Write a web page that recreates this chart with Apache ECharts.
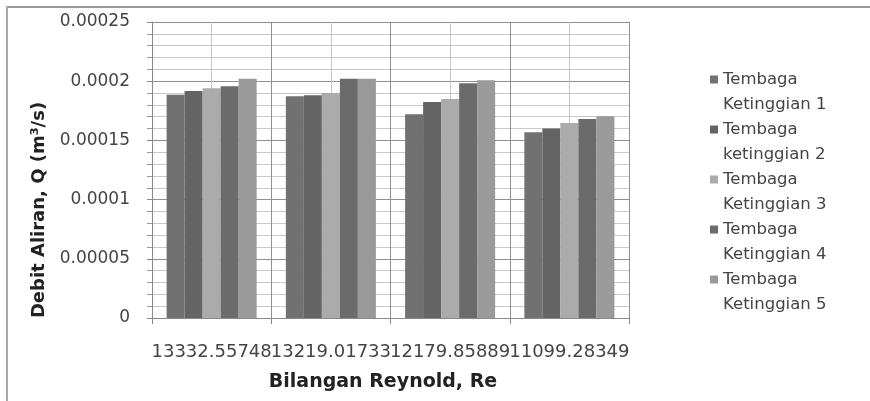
<!DOCTYPE html>
<html>
<head>
<meta charset="utf-8">
<script src="https://cdn.jsdelivr.net/npm/echarts@6/dist/echarts.min.js"></script>
<style>
    html, body { margin: 0; padding: 0; background: #fff; }
    #chart { width: 870px; height: 401px; }
</style>
</head>
<body>
<div id="chart"></div>
<script>
// bilangan reynold per kelompok
var categories = ['13332.55748', '13219.01733', '12179.85889', '11099.28349'];

// debit aliran Q (m3/s) per ketinggian
var seriesNames = [
    'Tembaga\nKetinggian 1',
    'Tembaga\nketinggian 2',
    'Tembaga\nKetinggian 3',
    'Tembaga\nKetinggian 4',
    'Tembaga\nKetinggian 5'
];
var ketinggian1 = [0.0001886, 0.0001872, 0.0001720, 0.0001568];
var ketinggian2 = [0.0001917, 0.0001881, 0.0001824, 0.0001600];
var ketinggian3 = [0.0001940, 0.0001900, 0.0001850, 0.0001647];
var ketinggian4 = [0.0001957, 0.0002021, 0.0001982, 0.0001680];
var ketinggian5 = [0.0002021, 0.0002020, 0.0002007, 0.0001703];

var yTickLabels = ['0', '0.00005', '0.0001', '0.00015', '0.0002', '0.00025'];

var barColors = ['#717171', '#646464', '#ababab', '#6b6b6b', '#9a9a9a'];
var allData = [ketinggian1, ketinggian2, ketinggian3, ketinggian4, ketinggian5];

var series = [];
for (var i = 0; i < allData.length; i++) {
    series.push({
        type: 'bar',
        name: seriesNames[i],
        data: allData[i],
        xAxisIndex: 0,
        barGap: '0%',
        barCategoryGap: '24.5%',
        itemStyle: { color: barColors[i] },
        emphasis: { disabled: true }
    });
}

// legenda dua baris: baris pertama dengan kotak warna, baris kedua tanpa
function legendLine(idx, top, iconOpacity) {
    return {
        orient: 'vertical',
        left: 705,
        top: top,
        itemWidth: 8,
        itemHeight: 8,
        itemGap: 25,
        icon: 'rect',
        selectedMode: false,
        data: seriesNames,
        itemStyle: { opacity: iconOpacity },
        formatter: function (name) {
            return name.split('\n')[idx];
        },
        textStyle: {
            fontSize: 16.5,
            color: '#444',
            lineHeight: 25
        }
    };
}

var myChart = echarts.init(document.getElementById('chart'));
var option = {
    animation: false,
    backgroundColor: '#fff',
    textStyle: { fontFamily: 'DejaVu Sans' },
    graphic: [
        { type: 'line', shape: { x1: 6, y1: 7, x2: 870, y2: 7 }, style: { stroke: '#999', lineWidth: 2 } },
        { type: 'line', shape: { x1: 7, y1: 6, x2: 7, y2: 401 }, style: { stroke: '#aaa', lineWidth: 2 } }
    ],
    grid: {
        left: 152,
        right: 241,
        top: 22,
        bottom: 83
    },
    legend: [legendLine(0, 62, 1), legendLine(1, 87, 0)],
    xAxis: [
        {
            type: 'category',
            data: categories,
            name: 'Bilangan Reynold, Re',
            nameLocation: 'middle',
            nameGap: 55,
            nameTextStyle: {
                fontSize: 19,
                fontWeight: 'bold',
                color: '#222',
                padding: [0, 15, 0, 0]
            },
            axisLine: { lineStyle: { color: '#888' } },
            axisTick: { show: true, length: 6, lineStyle: { color: '#888' } },
            axisLabel: {
                fontSize: 18,
                color: '#444',
                margin: 25,
                interval: 0
            },
            splitLine: { show: false }
        },
        {
            // garis bantu vertikal di batas dan tengah kelompok
            type: 'value',
            position: 'top',
            min: 0,
            max: 8,
            interval: 1,
            axisLine: { show: false },
            axisTick: { show: false },
            axisLabel: { show: false },
            splitLine: {
                show: true,
                lineStyle: { color: ['#8f8f8f', '#c4c4c4'], width: 1 }
            }
        }
    ],
    yAxis: {
        type: 'value',
        min: 0,
        max: 0.00025,
        interval: 0.00005,
        name: 'Debit Aliran, Q (m³/s)',
        nameLocation: 'middle',
        nameGap: 97,
        nameTextStyle: {
            fontSize: 18,
            fontWeight: 'bold',
            color: '#222',
            padding: [0, 80, 0, 0]
        },
        axisLine: { show: true, lineStyle: { color: '#888' } },
        axisTick: { show: true, length: 5, lineStyle: { color: '#888' } },
        minorTick: { show: true, splitNumber: 5, length: 5, lineStyle: { color: '#999' } },
        axisLabel: {
            fontSize: 17,
            color: '#444',
            margin: 22,
            formatter: function (v) {
                return yTickLabels[Math.round(v / 0.00005)];
            }
        },
        splitLine: { show: true, lineStyle: { color: '#8f8f8f' } },
        minorSplitLine: { show: true, lineStyle: { color: '#c8c8c8' } }
    },
    series: series
};
myChart.setOption(option);
</script>
</body>
</html>
